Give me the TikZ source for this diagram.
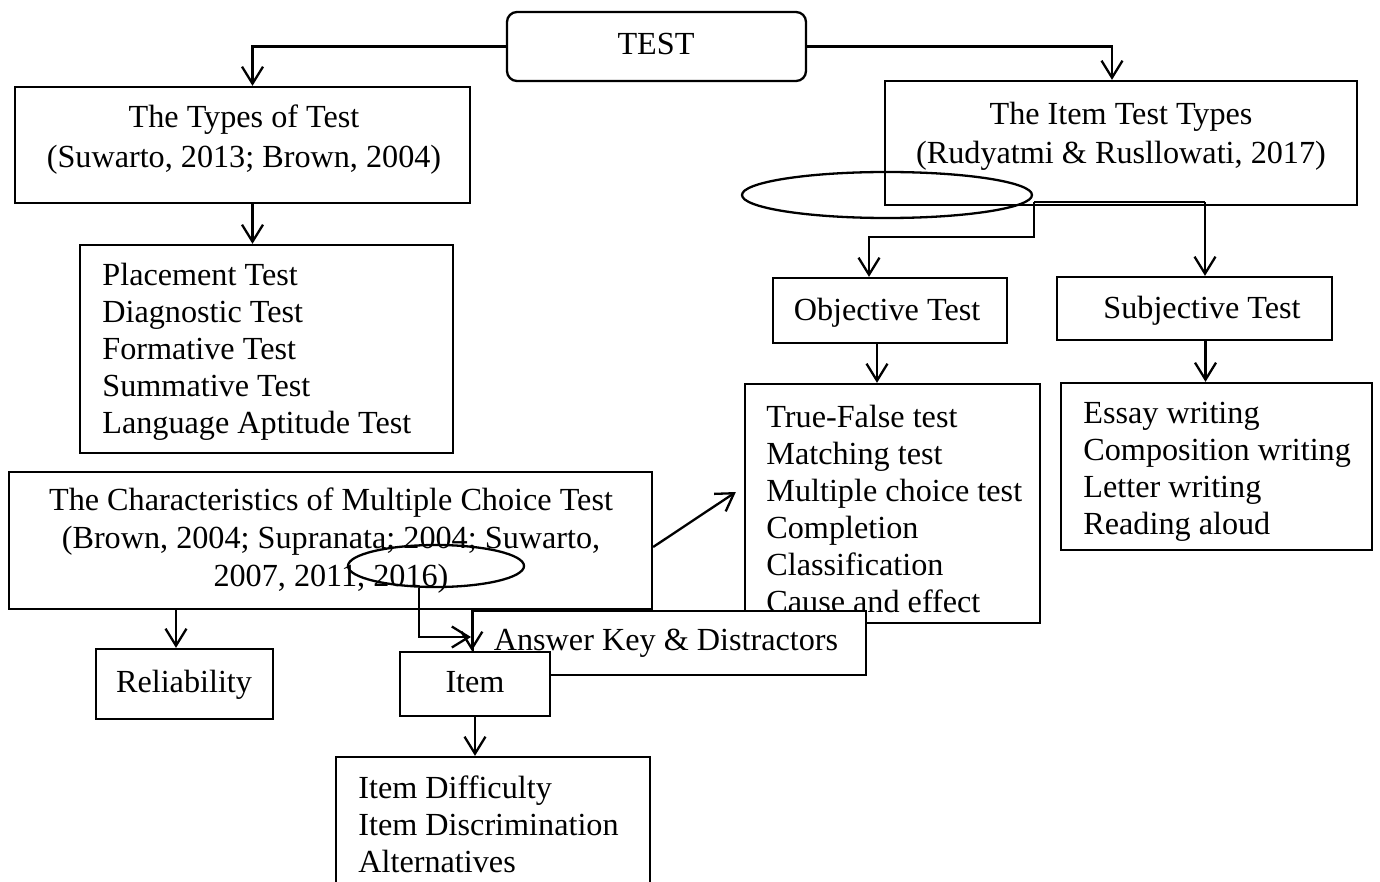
\documentclass[tikz,border=0pt]{standalone}
\usepackage{fontspec}
\setmainfont{Liberation Serif}
\usetikzlibrary{arrows.meta,shapes.geometric,fit}
\newcommand\fsz{\fontsize{16.1pt}{18.5pt}\selectfont}
\newcommand\mystrut{\rule{0pt}{12pt}}
\tikzset{
  box/.style={draw, line width=1.15pt, inner sep=0pt, fill=white},
  rbox/.style={box, rounded corners=5pt},
  txt/.style={inner sep=0pt, font=\fsz},
  lst/.style={txt, align=left, anchor=north west},
  ctr/.style={txt, align=center, anchor=north},
  one/.style={txt, anchor=base},
  oval/.style={draw, ellipse, line width=1.15pt, inner sep=0pt},
  arr/.style={line width=1.15pt, -{Straight Barb[length=8.5pt,width=10.5pt]}},
  ln/.style={line width=1.15pt},
}
\begin{document}
\begin{tikzpicture}[x=0.5pt,y=-0.5pt]
\useasboundingbox (0,0) rectangle (1380,882);
\clip (0,0) rectangle (1380,882);
% TEST
\node[rbox, fit={(507,12) (806,81)}] (test) {};
\node[one] (testt) at (656,55) {TEST};
% Types of test
\node[box, fit={(15,87) (470,203)}] (types) {};
\node[ctr] (typest) at (244,103) {\mystrut The Types of Test\\[1.5pt](Suwarto, 2013; Brown, 2004)};
\node[box, fit={(80,245) (453,453)}] (tlist) {};
\node[lst] (tlistt) at (102,261) {\mystrut Placement Test\\Diagnostic Test\\Formative Test\\Summative Test\\Language Aptitude Test};
% Item test types
\node[box, fit={(885,81) (1357,205)}] (itypes) {};
\node[ctr] (itypest) at (1121,100) {\mystrut The Item Test Types\\[1pt](Rudyatmi \& Rusllowati, 2017)};
\node[oval, minimum width=145pt, minimum height=23pt] (ell1) at (887,195) {};
% Objective / Subjective
\node[box, fit={(773,278) (1007,343)}] (obj) {};
\node[one] (objt) at (887,320) {Objective Test};
\node[box, fit={(1057,277) (1332,340)}] (subj) {};
\node[one] (subjt) at (1202,318) {Subjective Test};
\node[box, fit={(745,384) (1040,623)}] (olist) {};
\node[lst] (olistt) at (766,403) {\mystrut True-False test\\Matching test\\Multiple choice test\\Completion\\Classification\\Cause and effect};
\node[box, fit={(1061,383) (1372,550)}] (slist) {};
\node[lst] (slistt) at (1083,399) {\mystrut Essay writing\\Composition writing\\Letter writing\\Reading aloud};
% Characteristics
\node[box, fit={(9,472) (652,609)}] (char) {};
\node[ctr] (chart) at (331,486) {\mystrut The Characteristics of Multiple Choice Test\\[0.5pt](Brown, 2004; Supranata; 2004; Suwarto,\\[0.5pt]2007, 2011, 2016)};
\node[oval, minimum width=88pt, minimum height=21pt] (ell2) at (436,566) {};
\node[box, fit={(96,649) (273,719)}] (reli) {};
\node[one] (relit) at (184,692) {Reliability};
\node[box, fit={(473,611) (866,675)}] (ansk) {};
\node[one] (anskt) at (666,650) {Answer Key \& Distractors};
\node[box, fit={(400,652) (550,716)}] (item) {};
\node[one] (itemt) at (475,692) {Item};
\node[box, fit={(336,757) (650,900)}] (ilist) {};
\node[lst] (ilistt) at (358,774) {\mystrut Item Difficulty\\Item Discrimination\\Alternatives};
% connectors
\draw[arr] (test.west) -| ([xshift=5pt]types.north);
\draw[arr] (test.east) -| ([xshift=-4.5pt]itypes.north);
\draw[arr] ([xshift=5pt]types.south) -- ([xshift=5pt]types.south |- tlist.north);
\coordinate (j1) at (1034,202);
\coordinate (j2) at (1205,202);
\draw[ln] (j1) -- (j2);
\draw[arr] (j2) -- (j2 |- subj.north);
\draw[arr] (j1) -- ++(0,35) -| ([xshift=-10.5pt]obj.north);
\draw[arr] ([xshift=-6.5pt]obj.south) -- ([xshift=-6.5pt]obj.south |- olist.north);
\draw[arr] ([xshift=5.5pt]subj.south) -- ([xshift=5.5pt]subj.south |- slist.north);
\draw[arr] ([yshift=-3.25pt]char.east) -- ([xshift=-4pt,yshift=5.75pt]olist.west);
\draw[arr] ([xshift=-4.25pt]reli.north |- char.south) -- ([xshift=-4.25pt]reli.north);
\coordinate (ak) at (471,637);
\draw[arr] ([xshift=-8.5pt]ell2.south) |- (ak);
\draw[arr] (ansk.north west) -- (ansk.north west |- item.north);
\draw[arr] (item.south) -- (item.south |- ilist.north);
\end{tikzpicture}
\end{document}
